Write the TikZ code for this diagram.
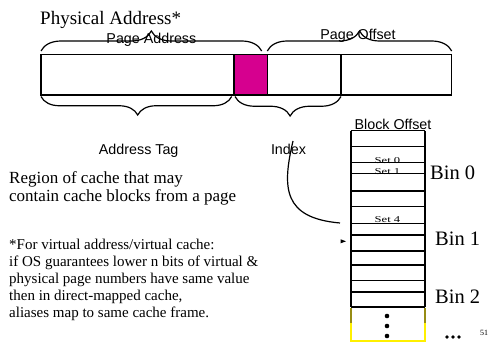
\documentclass[tikz,border=0pt]{standalone}
\usepackage{fontspec}
\setmainfont{Liberation Serif}
\setsansfont{Liberation Sans}
\usetikzlibrary{decorations.pathreplacing}
\definecolor{fieldmagenta}{RGB}{214,0,143}
\definecolor{binyellow}{RGB}{255,240,0}
\definecolor{binolive}{RGB}{150,140,20}
\begin{document}
\begin{tikzpicture}[x=1pt,y=-1pt,
  serifbig/.style={inner sep=0pt,font=\fontsize{19}{19}\selectfont},
  seriftext/.style={inner sep=0pt,anchor=base west,font=\fontsize{17}{17}\selectfont},
  footnote/.style={inner sep=0pt,anchor=base west,font=\fontsize{15}{15}\selectfont},
  sanslbl/.style={inner sep=0pt,anchor=base,font=\sffamily\fontsize{14.3}{14.3}\selectfont},
  binlbl/.style={inner sep=0pt,anchor=base west,font=\fontsize{20.5}{20.5}\selectfont},
  setlbl/.style={inner sep=0pt,anchor=base,font=\fontsize{9}{9}\selectfont},
  fieldline/.style={line width=1.3pt},
  bracepath/.style={line width=1.2pt,decorate,decoration={brace,amplitude=#1,aspect=0.5}},
  rowline/.style={line width=1.2pt},
  rowthick/.style={line width=1.8pt},
  indexcurve/.style={line width=1.2pt}]
\useasboundingbox (0,0) rectangle (491,345);

% title
\node[serifbig,anchor=base west] (title) at (40,25) {Physical Address*};

% address fields
\fill[fieldmagenta] (234,54.5) rectangle (267.3,95);
\draw[fieldline] (41,54.5) rectangle (451.7,95);
\draw[fieldline] (234,54.5) -- (234,95);
\draw[fieldline] (267.3,54.5) -- (267.3,95);
\draw[fieldline] (341,54.5) -- (341,95);

% braces above the fields
\coordinate (pa-l) at (41,51);
\coordinate (pa-r) at (261.7,51);
\coordinate (po-l) at (267.3,51);
\coordinate (po-r) at (451.7,51);
\draw[bracepath=20pt] (pa-l) -- (pa-r);
\draw[bracepath=20pt] (po-l) -- (po-r);
\node[sanslbl] (pageaddr) at (151.4,44) {Page Address};
\node[sanslbl] (pageoff) at (358,39.5) {Page Offset};

% braces below the fields
\coordinate (tag-r) at (231.7,96.5);
\coordinate (tag-l) at (41,96.5);
\coordinate (idx-r) at (341,96.5);
\coordinate (idx-l) at (235,96.5);
\draw[line width=1.2pt,decorate,decoration={brace,amplitude=18.5pt,aspect=0.493}] (tag-r) -- (tag-l);
\draw[line width=1.2pt,decorate,decoration={brace,amplitude=19.5pt,aspect=0.48}] (idx-r) -- (idx-l);
\node[sanslbl] (addrtag) at (138.7,155) {Address Tag};
\node[sanslbl] (index) at (288.5,154.5) {Index};
\node[sanslbl] (blockoff) at (393,129.5) {Block Offset};

% left-hand notes
\node[seriftext] (region1) at (9,183.3) {Region of cache that may};
\node[seriftext] (region2) at (9,201) {contain cache blocks from a page};
\node[footnote] (fn1) at (9,250) {*For virtual address/virtual cache:};
\node[footnote] (fn2) at (9,266.8) {if OS guarantees lower n bits of virtual \&};
\node[footnote] (fn3) at (9,283.6) {physical page numbers have same value};
\node[footnote] (fn4) at (9,300.4) {then in direct-mapped cache,};
\node[footnote] (fn5) at (9,317.2) {aliases map to same cache frame.};

% cache frames
\draw[rowline] (351,130.7) -- (351,306.7);
\draw[rowline] (425,130.7) -- (425,306.7);
\foreach \yy in {130.7,146.5,162.5,173.5,206.7,223.5,235,265,280.5,292}
  \draw[rowline] (351,\yy) -- (425,\yy);
\foreach \yy in {190.7,251,306.7}
  \draw[rowthick] (351,\yy) -- (425,\yy);
\draw[line width=1.2pt,binolive] (351,307.5) -- (351,323);
\draw[line width=1.2pt,binolive] (425,307.5) -- (425,323);
\draw[line width=1.2pt,binyellow] (351,323) -- (351,341) -- (425,341) -- (425,323);
\foreach \yy in {316,326,336}
  \fill (387,\yy) circle (2.3);

\node[setlbl] (set0) at (387.5,164) {\scalebox{1.4}[1]{Set 0}};
\node[setlbl] (set1) at (387.5,174.5) {\scalebox{1.4}[1]{Set 1}};
\node[setlbl] (set4) at (387.5,222.5) {\scalebox{1.4}[1]{Set 4}};

\node[binlbl] (bin0) at (430,180) {Bin 0};
\node[binlbl] (bin1) at (435,246) {Bin 1};
\node[binlbl] (bin2) at (435,303) {Bin 2};

% index curve and its arrow head
\coordinate (idxtail) at (293,141);
\coordinate (idxhead) at (340,223);
\draw[indexcurve] (idxtail) .. controls (282,188) and (283,218) .. (idxhead);
\fill (340.7,239.3) -- (346,241.3) -- (340.7,243.3) -- cycle;

% continuation mark and page number
\foreach \xx in {447,453,459}
  \fill (\xx,337) circle (1.8);
\node[inner sep=0pt,anchor=base,font=\fontsize{8}{8}\selectfont] (pagenum) at (484,335) {51};
\end{tikzpicture}
\end{document}
